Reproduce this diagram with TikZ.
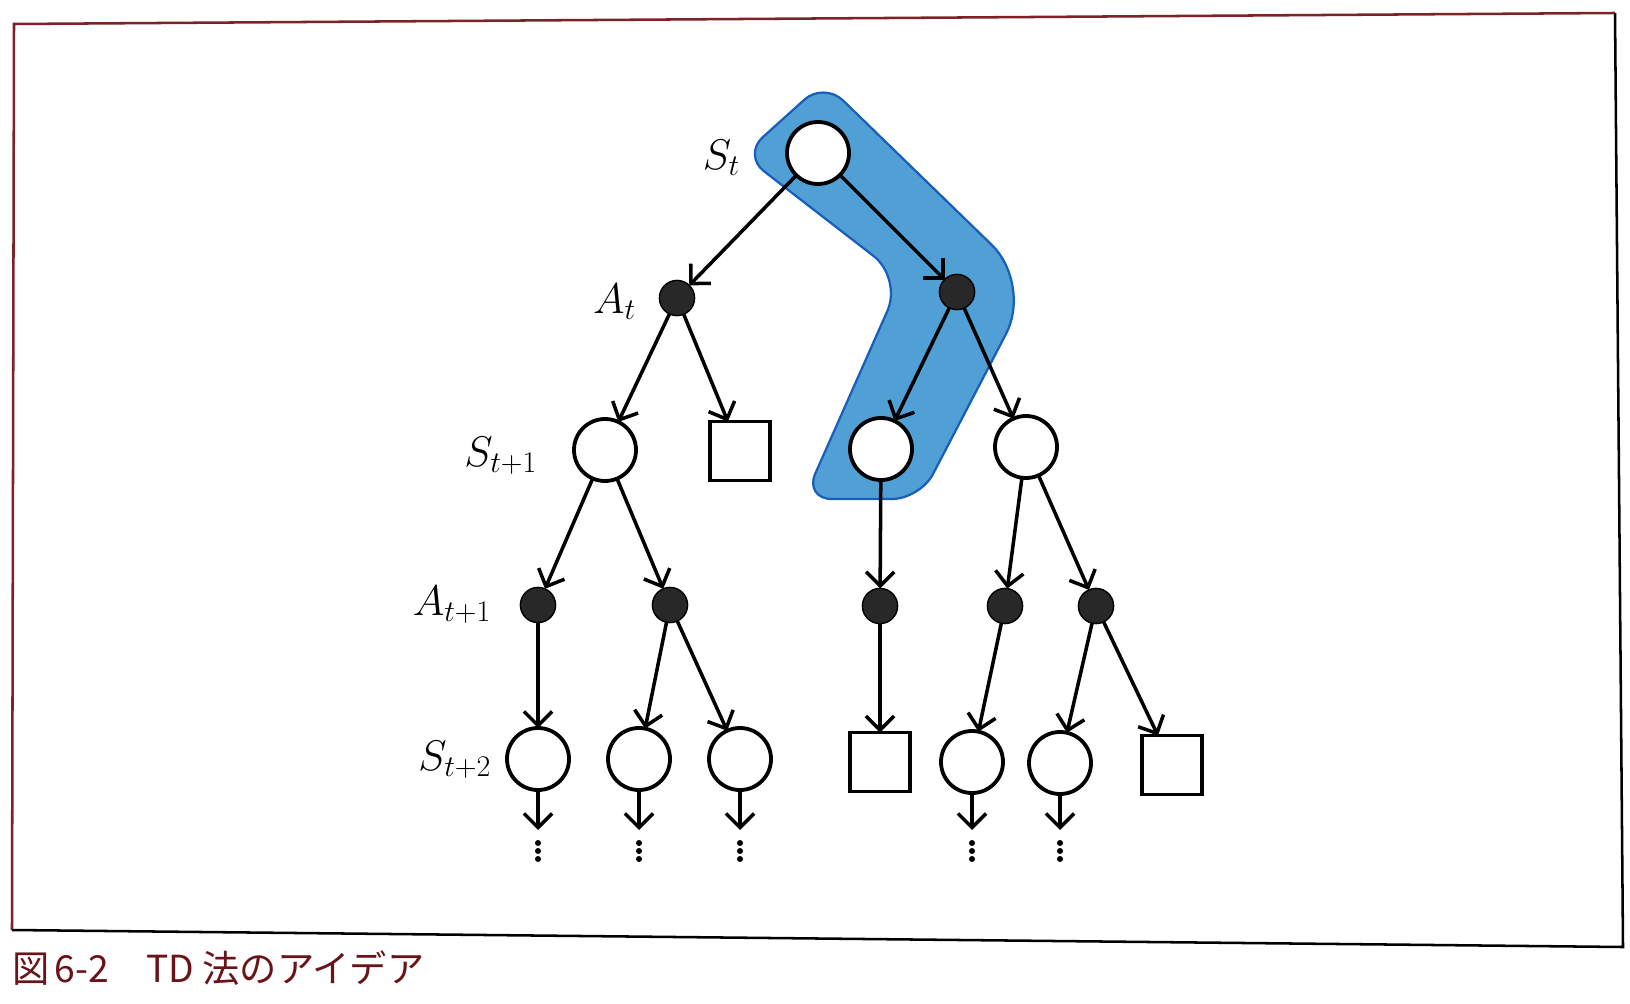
\RequirePackage{fix-cm}
\documentclass[tikz,border=0pt]{standalone}
\usepackage{fontspec}
\newfontfamily\cjk{Noto Sans CJK JP}
\usetikzlibrary{arrows.meta}
\definecolor{hlfill}{RGB}{80,160,213}
\definecolor{hldraw}{RGB}{25,95,185}
\definecolor{dotfill}{RGB}{40,40,40}
\definecolor{capred}{RGB}{105,20,25}
\definecolor{framered}{RGB}{125,35,40}
\begin{document}
\begin{tikzpicture}[x=0.025cm,y=-0.025cm,
  every node/.style={inner sep=0pt, outer sep=0pt},
  snode/.style={circle, draw, fill=white, line width=2.7pt, minimum size=1.55cm},
  anode/.style={circle, draw=black, fill=dotfill, line width=1pt, minimum size=0.88cm},
  tnode/.style={rectangle, draw, fill=white, line width=2.7pt, minimum width=1.5cm, minimum height=1.47cm},
  arr/.style={line width=2.5pt, -{Straight Barb[length=10pt,width=20pt]}},
  lab/.style={font=\fontsize{30.5}{34}\selectfont, anchor=east},
  hl/.style={fill=hlfill, draw=hldraw, line width=1.6pt},
  vdot/.style={fill=black}]
\useasboundingbox (0,0) rectangle (1630,1004);
\fill[white] (0,0) rectangle (1630,1004);
% frame
\draw[framered, line width=1.8pt] (12,930) -- (14,24) -- (1615,13);
\draw[black, line width=1.8pt] (1615,13) -- (1623,947) -- (12,930);
% highlight
\path[hl] (783.5,118.5) [rounded corners=0.66cm] -- (824,82) [rounded corners=1.4cm] -- (1032,284) [rounded corners=0.7cm] -- (920,499) -- (804,499) [rounded corners=0.9cm] -- (902,278) [rounded corners=0.66cm] -- (743,155) -- cycle;
% nodes
\node[snode] (St) at (818,153) {};
\node[anode] (At) at (677,298) {};
\node[anode] (Ar) at (957,292) {};
\node[snode] (S1a) at (605,450) {};
\node[tnode] (Q1) at (740,451) {};
\node[snode] (S1b) at (881,449) {};
\node[snode] (S1c) at (1026,447) {};
\node[anode] (A2a) at (538,605) {};
\node[anode] (A2b) at (670,605) {};
\node[anode] (A2c) at (880,606) {};
\node[anode] (A2d) at (1005,606) {};
\node[anode] (A2e) at (1096,606) {};
\node[snode] (S2a) at (538,759) {};
\node[snode] (S2b) at (639,759) {};
\node[snode] (S2c) at (740,759) {};
\node[tnode] (Q2) at (880,762) {};
\node[snode] (S2d) at (972,762) {};
\node[snode] (S2e) at (1060,763) {};
\node[tnode] (Q3) at (1172,765) {};
% labels
\node[lab] (lSt) at (740,158) {$S_t$};
\node[lab] (lAt) at (636,302) {$A_t$};
\node[lab] (lS1) at (537,456) {$S_{t+1}$};
\node[lab] (lA2) at (491,605) {$A_{t+1}$};
\node[lab] (lS2) at (491,760) {$S_{t+2}$};
% edges
\draw[arr] (St) -- (At);
\draw[arr] (St) -- (Ar);
\draw[arr] (At) -- (S1a);
\draw[arr] (At) -- (Q1);
\draw[arr] (Ar) -- (S1b);
\draw[arr] (Ar) -- (S1c);
\draw[arr] (S1a) -- (A2a);
\draw[arr] (S1a) -- (A2b);
\draw[arr] (S1b) -- (A2c);
\draw[arr] (S1c) -- (A2d);
\draw[arr] (S1c) -- (A2e);
\draw[arr] (A2a) -- (S2a);
\draw[arr] (A2b) -- (S2b);
\draw[arr] (A2b) -- (S2c);
\draw[arr] (A2c) -- (Q2);
\draw[arr] (A2d) -- (S2d);
\draw[arr] (A2e) -- (S2e);
\draw[arr] (A2e) -- (Q3);
% continuation arrows and dots
\foreach \n/\x in {S2a/538,S2b/639,S2c/740,S2d/972,S2e/1060} {
  \coordinate (e\n) at (\x,830);
  \draw[arr] (\n) -- (e\n);
  \foreach \yy in {843,851,859} \fill[vdot] (\x,\yy) circle (0.075cm);
}
% caption
\node[anchor=base west, text=capred, font=\cjk\fontsize{26.5}{30}\selectfont] (cap) at (13,982) {図\kern0.12em 6-2　TD 法のアイデア};
\end{tikzpicture}
\end{document}
